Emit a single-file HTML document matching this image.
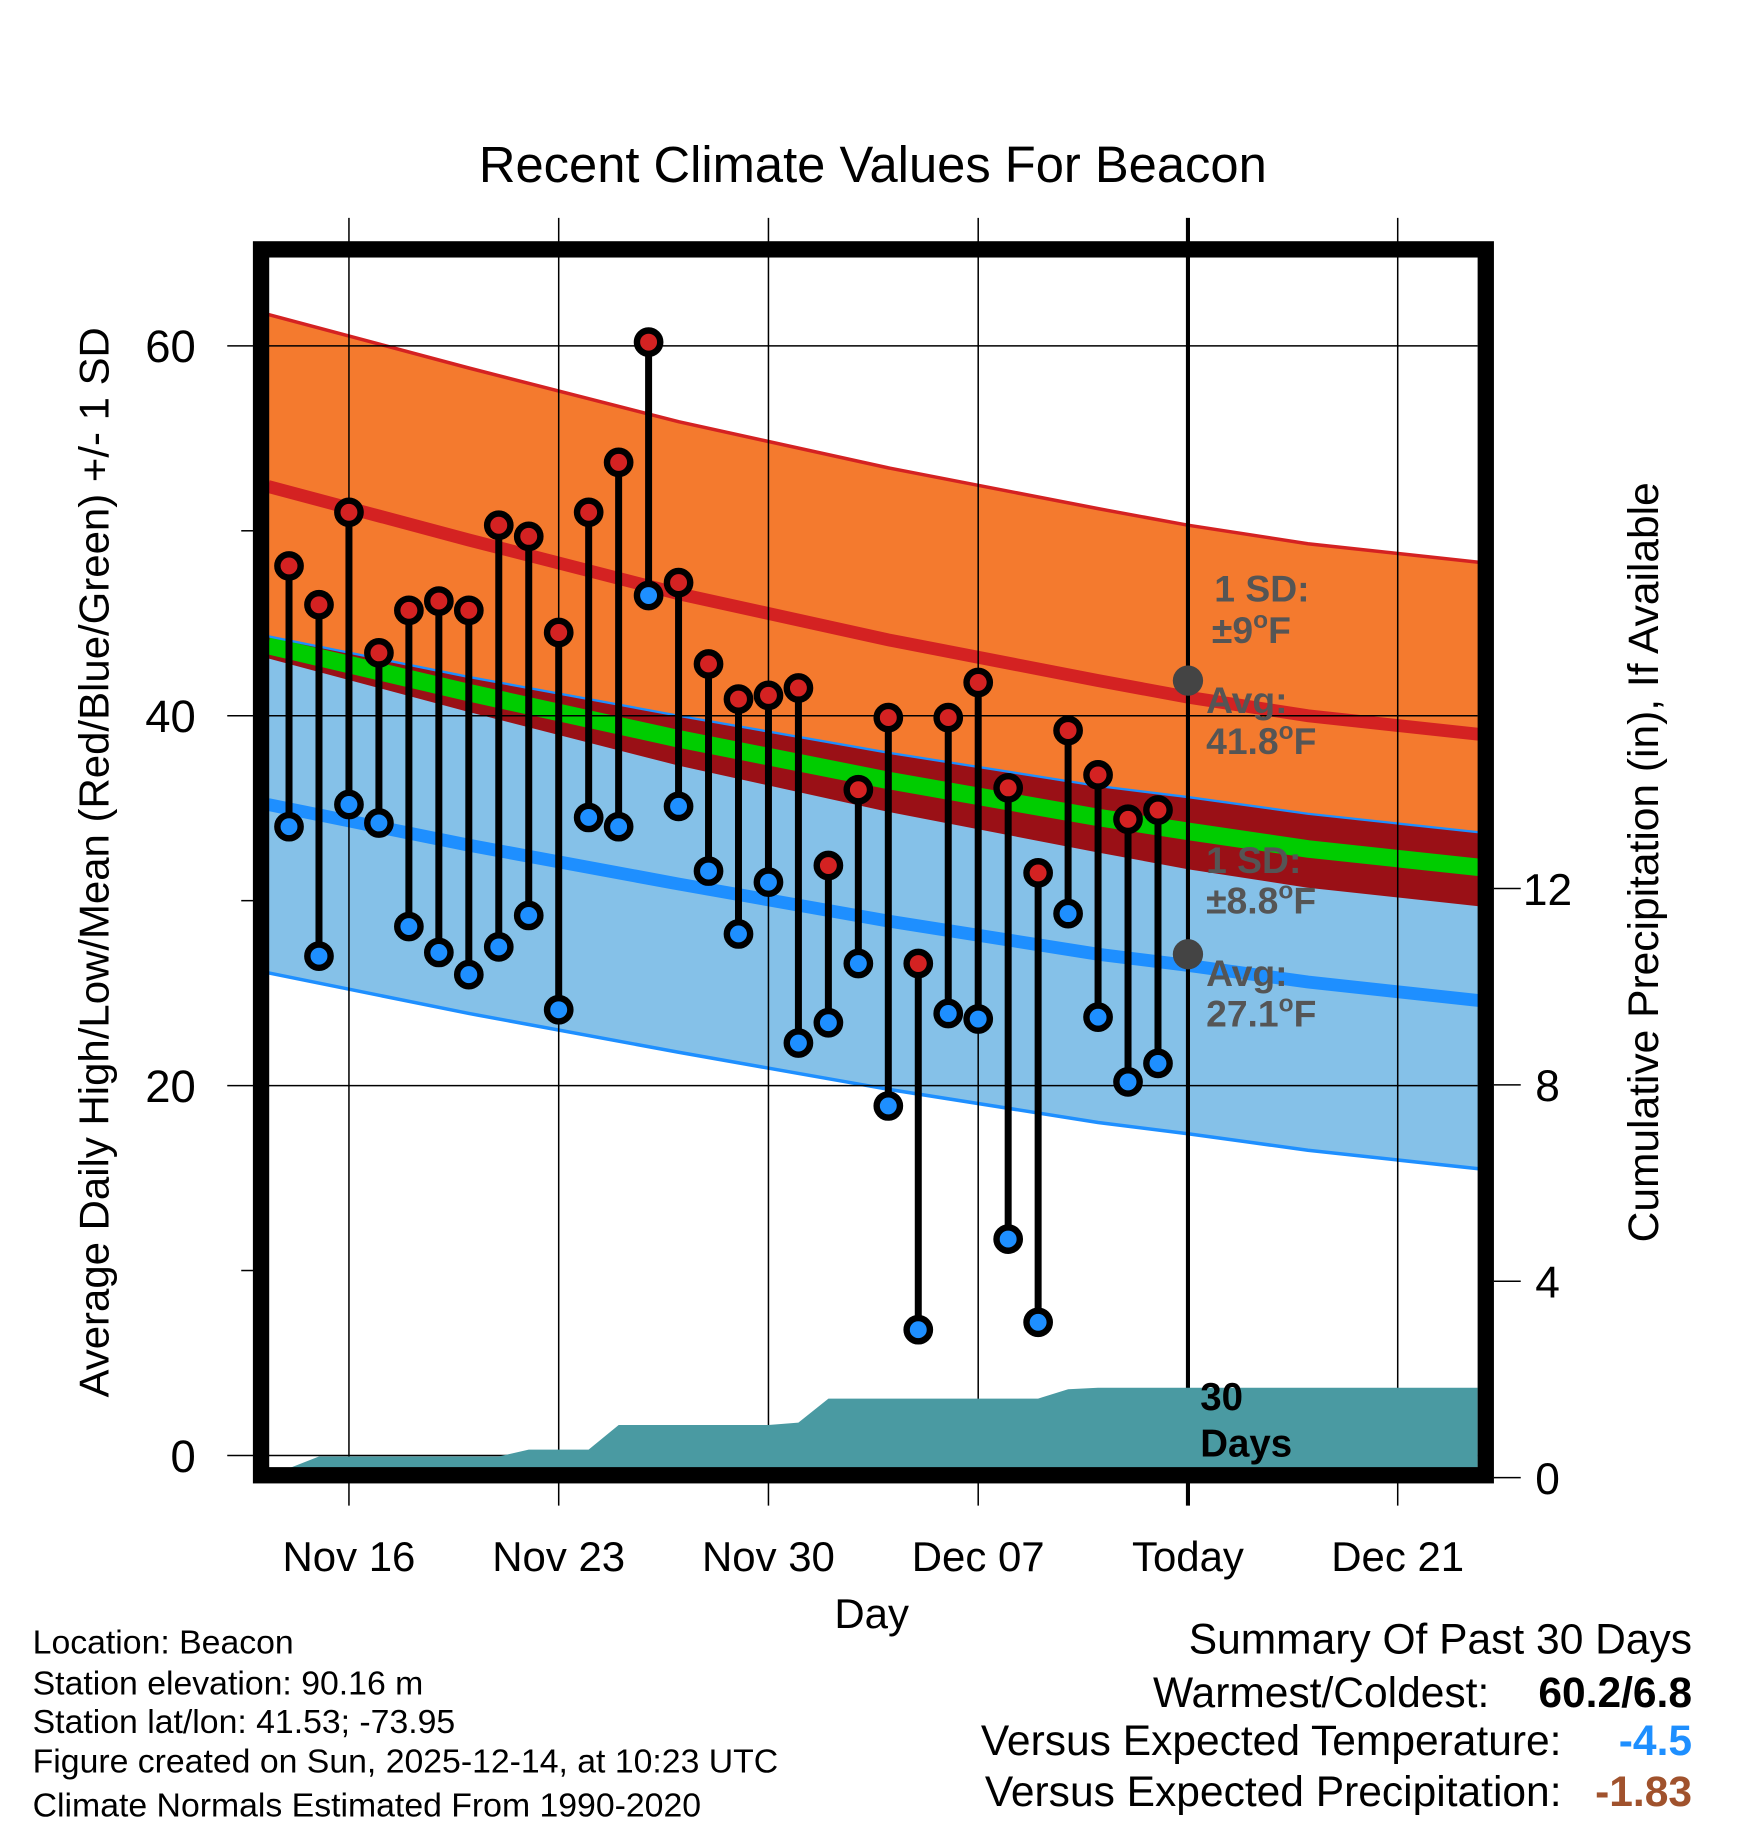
<!DOCTYPE html>
<html><head><meta charset="utf-8"><style>
html,body{margin:0;padding:0;background:#fff}
svg{display:block;font-family:"Liberation Sans",sans-serif}
</style></head><body>
<svg id="chart" width="1748" height="1828" viewBox="0 0 1500 1568.7" xmlns="http://www.w3.org/2000/svg">
<rect width="1500" height="1568.7" fill="#fff"/>
<text x="749" y="156" font-size="43.5" text-anchor="middle">Recent Climate Values For Beacon</text>
<g id="bands"></g>
<g id="grid"></g>
<g id="precip"></g>
<g id="series"></g>
<g id="ann"></g>
</svg>
<script>
// ---- data ----
const days = ["Nov 14","Nov 15","Nov 16","Nov 17","Nov 18","Nov 19","Nov 20","Nov 21","Nov 22","Nov 23","Nov 24","Nov 25","Nov 26","Nov 27","Nov 28","Nov 29","Nov 30","Dec 01","Dec 02","Dec 03","Dec 04","Dec 05","Dec 06","Dec 07","Dec 08","Dec 09","Dec 10","Dec 11","Dec 12","Dec 13"];
const highs = [48.1,46.0,51.0,43.4,45.7,46.2,45.7,50.3,49.7,44.5,51.0,53.7,60.2,47.2,42.8,40.9,41.1,41.5,31.9,36.0,39.9,26.6,39.9,41.8,36.1,31.5,39.2,36.8,34.4,34.9];
const lows = [34.0,27.0,35.2,34.2,28.6,27.2,26.0,27.5,29.2,24.1,34.5,34.0,46.5,35.1,31.6,28.2,31.0,22.3,23.4,26.6,18.9,6.8,23.9,23.6,11.7,7.2,29.3,23.7,20.2,21.2];
const dailyPrecip = [0,0.43,0,0,0,0,0,0,0.14,0,0,0.5,0,0,0,0,0,0.05,0.49,0,0,0,0,0,0,0,0.19,0.03,0,0];
// normals at day offsets from Nov 14
const normDays = [-0.7,6,13,20,27,30,34,39.7];
const normHigh = [52.4,49.5,46.6,44.1,41.9,41.0,40.0,39.0];
const normLow = [35.2,33.0,30.9,28.9,27.1,26.5,25.6,24.6];
const sdHigh = 9.3, sdLow = 9.1;
const xTickDays = [2,9,16,23,30,37];
const xTickLabels = ["Nov 16","Nov 23","Nov 30","Dec 07","Today","Dec 21"];
const yTicks = [0,20,40,60];
const yMinor = [10,30,50];
const pTicks = [0,4,8,12];

// ---- scales ----
const X = d => 248 + d*25.714;
const Y = v => 1249 - v*15.87;
const P = p => 1268 - p*42.13;
const L = 230, R = 1268, T = 220, B = 1260;
const NS = "http://www.w3.org/2000/svg";
function mk(parent, tag, attrs){const e=document.createElementNS(NS,tag);for(const k in attrs)e.setAttribute(k,attrs[k]);document.getElementById(parent).appendChild(e);return e;}
function pts(arr, f){return normDays.map((d,i)=>X(d).toFixed(1)+","+Y(f(i)).toFixed(1));}
function band(top,bot){return pts(normDays,top).concat(pts(normDays,bot).reverse()).join(" ");}

let e;
e = mk("bands","polygon",{points:band(i=>normHigh[i]+sdHigh,i=>normHigh[i]-sdHigh),fill:"#f47a2e"});


e = mk("bands","polygon",{points:band(i=>normLow[i]+sdLow,i=>normLow[i]-sdLow),fill:"#85c1e8"});


e = mk("bands","polygon",{points:band(i=>normLow[i]+sdLow,i=>normHigh[i]-sdHigh),fill:"#9a1016"});


e = mk("bands","polyline",{points:pts(normDays,i=>(normHigh[i]+normLow[i])/2).join(" "),fill:"none",stroke:"#00cc00","stroke-width":15});


e = mk("bands","polyline",{points:pts(normDays,i=>normHigh[i]).join(" "),fill:"none",stroke:"#d42222","stroke-width":11});


e = mk("bands","polyline",{points:pts(normDays,i=>normLow[i]).join(" "),fill:"none",stroke:"#1e8fff","stroke-width":11});


e = mk("bands","polyline",{points:pts(normDays,i=>normHigh[i]+sdHigh).join(" "),fill:"none",stroke:"#d42222","stroke-width":3});


e = mk("bands","polyline",{points:pts(normDays,i=>normLow[i]-sdLow).join(" "),fill:"none",stroke:"#1e8fff","stroke-width":3});


e = mk("bands","polyline",{points:pts(normDays,i=>normLow[i]+sdLow).join(" "),fill:"none",stroke:"#1e8fff","stroke-width":2});



// grid
xTickDays.forEach((d,i)=>{
  if(xTickLabels[i]!=="Today"){
    e = mk("grid","line",{x1:X(d),x2:X(d),y1:187,y2:1292,stroke:"#000","stroke-width":1.3});
    
    
  } else {
    e = mk("grid","line",{x1:X(d),x2:X(d),y1:187,y2:1292,stroke:"#000","stroke-width":3.5});
    
    
  }
  e = mk("grid","text",{x:X(d),y:1348,"font-size":36,"text-anchor":"middle"});
  e.textContent = xTickLabels[i];
  
  
});
yTicks.forEach(v=>{
  e = mk("grid","line",{x1:195,x2:R,y1:Y(v),y2:Y(v),stroke:"#000","stroke-width":1.3});
  
  
  e = mk("grid","text",{x:168,y:Y(v)+14,"font-size":39,"text-anchor":"end"});
  e.textContent = v;
  
  
});
yMinor.forEach(v=>{
  e = mk("grid","line",{x1:207,x2:218,y1:Y(v),y2:Y(v),stroke:"#000","stroke-width":1.3});
  
  
});
pTicks.forEach(p=>{
  e = mk("grid","line",{x1:1282,x2:1305,y1:P(p),y2:P(p),stroke:"#000","stroke-width":1.3});
  
  
  e = mk("grid","text",{x:1328,y:P(p)+14,"font-size":38,"text-anchor":"middle"});
  e.textContent = p;
  
  
});

// precip
let cum=0, pp=[L+","+B, L+","+P(0), X(0)+","+P(0)];
dailyPrecip.forEach((v,i)=>{cum+=v; pp.push(X(i).toFixed(1)+","+Math.min(P(cum),B).toFixed(1));});
pp.push(R+","+P(cum).toFixed(1)); pp.push(R+","+B);
e = mk("precip","polygon",{points:pp.join(" "),fill:"#4a9aa2"});



// series
highs.forEach((h,i)=>{
  e = mk("series","line",{x1:X(i),x2:X(i),y1:Y(h),y2:Y(lows[i]),stroke:"#000","stroke-width":6});
  
  
});
highs.forEach((h,i)=>{
  e = mk("series","circle",{cx:X(i),cy:Y(h),r:10,fill:"#d42222",stroke:"#000","stroke-width":5.5});
  
  
  e = mk("series","circle",{cx:X(i),cy:Y(lows[i]),r:10,fill:"#1e8fff",stroke:"#000","stroke-width":5.5});
  
  
});

// annotations
e = mk("ann","rect",{x:224,y:214,width:1051,height:1052,fill:"none",stroke:"#000","stroke-width":14});


e = mk("ann","circle",{cx:X(30),cy:Y(normHigh[4]),r:13,fill:"#444"});


e = mk("ann","circle",{cx:X(30),cy:Y(normLow[4]),r:13,fill:"#444"});


</script>
<script>
(function(){
const s=document.getElementById('chart');
s.insertAdjacentHTML('beforeend',`
<g font-weight="bold" font-size="32" fill="#555">
<text x="1042" y="516">1 SD:</text>
<text x="1040" y="552">±9<tspan font-size="21" dy="-13">o</tspan><tspan dy="13">F</tspan></text>
<text x="1035" y="612">Avg:</text>
<text x="1035" y="647">41.8<tspan font-size="21" dy="-13">o</tspan><tspan dy="13">F</tspan></text>
<text x="1035" y="749">1 SD:</text>
<text x="1035" y="784">±8.8<tspan font-size="21" dy="-13">o</tspan><tspan dy="13">F</tspan></text>
<text x="1035" y="846">Avg:</text>
<text x="1035" y="881">27.1<tspan font-size="21" dy="-13">o</tspan><tspan dy="13">F</tspan></text>
</g>
<g font-weight="bold" font-size="33" fill="#000">
<text x="1030" y="1210">30</text><text x="1030" y="1250">Days</text>
</g>
<text x="748" y="1397" font-size="36" text-anchor="middle">Day</text>
<text transform="translate(93,740) rotate(-90)" font-size="36" text-anchor="middle">Average Daily High/Low/Mean (Red/Blue/Green) +/- 1 SD</text>
<text transform="translate(1423,740) rotate(-90)" font-size="36.5" text-anchor="middle">Cumulative Precipitation (in), If Available</text>
<g font-size="29">
<text x="28" y="1419">Location: Beacon</text>
<text x="28" y="1454">Station elevation: 90.16 m</text>
<text x="28" y="1487">Station lat/lon: 41.53; -73.95</text>
<text x="28" y="1521">Figure created on Sun, 2025-12-14, at 10:23 UTC</text>
<text x="28" y="1559">Climate Normals Estimated From 1990-2020</text>
</g>
<g font-size="36.5">
<text x="1452" y="1419" text-anchor="end">Summary Of Past 30 Days</text>
<text x="1278" y="1465" text-anchor="end">Warmest/Coldest:</text>
<text x="1452" y="1465" text-anchor="end" font-weight="bold">60.2/6.8</text>
<text x="1340" y="1506" text-anchor="end">Versus Expected Temperature:</text>
<text x="1452" y="1506" text-anchor="end" font-weight="bold" fill="#1e8fff">-4.5</text>
<text x="1340" y="1550" text-anchor="end">Versus Expected Precipitation:</text>
<text x="1452" y="1550" text-anchor="end" font-weight="bold" fill="#a0522d">-1.83</text>
</g>`);
})();
</script>
</body></html>
